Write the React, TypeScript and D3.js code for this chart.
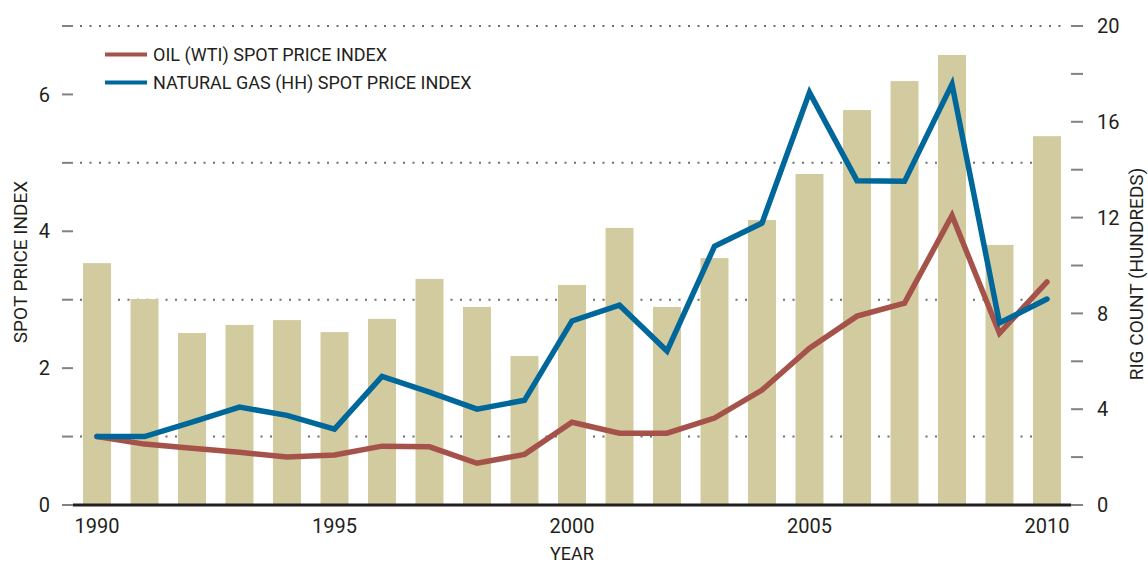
import React from "react";
import * as d3 from "d3";

const years = [1990,1991,1992,1993,1994,1995,1996,1997,1998,1999,2000,2001,2002,2003,2004,2005,2006,2007,2008,2009,2010];
const rigCount = [10.1,8.6,7.18,7.52,7.72,7.22,7.77,9.44,8.27,6.22,9.19,11.57,8.27,10.31,11.9,13.82,16.49,17.7,18.79,10.86,15.4];
const oilIndex = [1.0,0.89,0.83,0.77,0.70,0.73,0.86,0.85,0.61,0.74,1.21,1.05,1.05,1.27,1.68,2.29,2.76,2.95,4.23,2.51,3.26];
const gasIndex = [1.0,1.0,1.21,1.43,1.31,1.11,1.88,1.65,1.40,1.53,2.69,2.92,2.25,3.78,4.12,6.03,4.74,4.73,6.15,2.66,3.01];
const xTicks = [1990,1995,2000,2005,2010];
const leftTicks = [0,1,2,3,4,5,6,7];
const leftLabels = [0,2,4,6];
const gridValues = [1,3,5,7];
const rightTicks = [0,2,4,6,8,10,12,14,16,18,20];
const rightLabels = [0,4,8,12,16,20];
const legendItems = [
  { name: "OIL (WTI) SPOT PRICE INDEX", color: "#a5524a" },
  { name: "NATURAL GAS (HH) SPOT PRICE INDEX", color: "#00679a" },
];

const W = 1148, H = 565;
const FONT = "Roboto, 'Open Sans', sans-serif";
const TEXT = "#231f20";

export default function App() {
  const x = d3.scaleLinear().domain([1990, 2010]).range([97, 1047]);
  const yL = d3.scaleLinear().domain([0, 7]).range([505, 26]);
  const yR = d3.scaleLinear().domain([0, 20]).range([505, 26]);
  const barW = 28;
  const line = (vals: number[]) =>
    d3.line<number>().x((_, i) => x(years[i])).y((v) => yL(v))(vals) || "";

  return (
    <svg width={W} height={H} style={{ position: "absolute", left: 0, top: 0, background: "#fff" }} fontFamily={FONT}>
      {gridValues.map((v) => (
        <line key={"g" + v} x1={80} x2={1066} y1={yL(v)} y2={yL(v)} stroke="#6d6e71" strokeWidth={2} strokeDasharray="2,7.5" />
      ))}
      {years.map((yr, i) => (
        <rect key={"b" + yr} x={x(yr) - barW / 2} width={barW} y={yR(rigCount[i])} height={yR(0) - yR(rigCount[i])} fill="#d3cba0" />
      ))}
      {leftTicks.map((v) => (
        <line key={"lt" + v} x1={62} x2={73} y1={yL(v)} y2={yL(v)} stroke="#808285" strokeWidth={2} />
      ))}
      {leftLabels.map((v) => (
        <text key={"ll" + v} x={50} y={yL(v)} dy="0.36em" textAnchor="end" fontSize={20} fill={TEXT}>{v}</text>
      ))}
      {rightTicks.map((v) => (
        <line key={"rt" + v} x1={1071} x2={1083} y1={yR(v)} y2={yR(v)} stroke="#808285" strokeWidth={2} />
      ))}
      {rightLabels.map((v) => (
        <text key={"rl" + v} x={1097} y={yR(v)} dy="0.36em" textAnchor="start" fontSize={20} fill={TEXT}>{v}</text>
      ))}
      <line x1={73} x2={1071} y1={505} y2={505} stroke="#231f20" strokeWidth={3} />
      {xTicks.map((t) => (
        <text key={"xt" + t} x={x(t)} y={533} textAnchor="middle" fontSize={20} fill={TEXT}>{t}</text>
      ))}
      <path d={line(oilIndex)} fill="none" stroke="#a5524a" strokeWidth={5.5} strokeLinejoin="miter" strokeLinecap="round" />
      <path d={line(gasIndex)} fill="none" stroke="#00679a" strokeWidth={5.5} strokeLinejoin="miter" strokeLinecap="round" />
      {legendItems.map((it, i) => (
        <g key={it.name} transform={`translate(0, ${54.5 + i * 28})`}>
          <line x1={105} x2={147} y1={0} y2={0} stroke={it.color} strokeWidth={4} />
          <text x={153} y={0} dy="0.36em" fontSize={18} fill={TEXT}>{it.name}</text>
        </g>
      ))}
      <text transform="translate(27, 262) rotate(-90)" textAnchor="middle" fontSize={19} fill={TEXT}>SPOT PRICE INDEX</text>
      <text transform="translate(1143, 274) rotate(-90)" textAnchor="middle" fontSize={19} fill={TEXT}>RIG COUNT (HUNDREDS)</text>
      <text x={572} y={560} textAnchor="middle" fontSize={18} fill={TEXT}>YEAR</text>
    </svg>
  );
}
